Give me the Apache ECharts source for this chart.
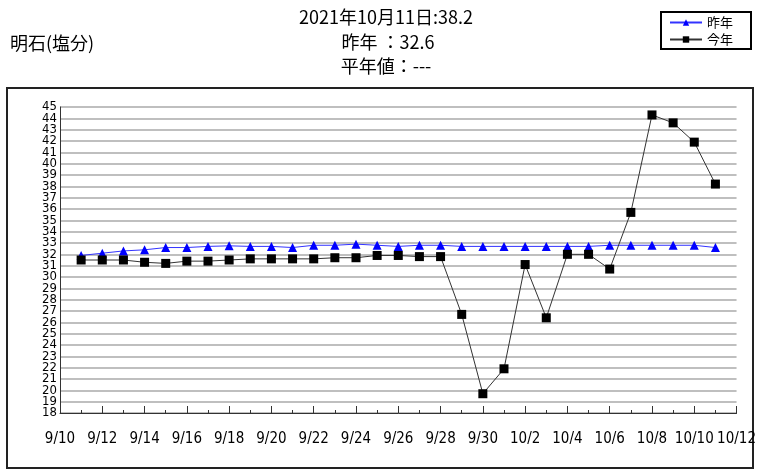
<!DOCTYPE html>
<html>
<head>
<meta charset="utf-8">
<script src="https://cdn.jsdelivr.net/npm/echarts@6/dist/echarts.min.js"></script>
<style>
  html, body { margin: 0; padding: 0; background: #fff; }
  #chart { width: 759px; height: 470px; }
</style>
</head>
<body>
<div id="chart"></div>
<script>
// 9/10 .. 10/12 daily
const dates = [];
for (let d = 10; d <= 30; d++) dates.push('9/' + d);
for (let d = 1; d <= 12; d++) dates.push('10/' + d);

// values from 9/11 to 10/11 (first and last category empty)
const lastYear = [null,
  31.9, 32.1, 32.3, 32.4, 32.6, 32.6, 32.7, 32.75, 32.7, 32.7,
  32.6, 32.8, 32.8, 32.9, 32.8, 32.7, 32.8, 32.8, 32.7, 32.7,
  32.7, 32.7, 32.7, 32.7, 32.7, 32.8, 32.8, 32.8, 32.8, 32.8, 32.6,
  null];
const thisYear = [null,
  31.5, 31.5, 31.5, 31.3, 31.2, 31.4, 31.4, 31.5, 31.6, 31.6,
  31.6, 31.6, 31.7, 31.7, 31.9, 31.9, 31.8, 31.8, 26.7, 19.7,
  21.9, 31.1, 26.4, 32.0, 32.0, 30.7, 35.7, 44.3, 43.6, 41.9, 38.2,
  null];

const Y_MIN = 18, Y_MAX = 45;

const FONT = '"Noto Sans CJK JP", "DejaVu Sans", sans-serif';
const NUM_FONT = '"DejaVu Sans Condensed", "DejaVu Sans", sans-serif';

// labels overlap vertically, so even/odd values are put on two stacked axes
const yLabel = (odd, extra) => Object.assign({
  fontSize: 13, color: '#000', margin: 3, fontFamily: NUM_FONT, hideOverlap: false,
  formatter: v => ((v % 2 === 1) === odd ? String(v) : '')
}, extra);

const chart = echarts.init(document.getElementById('chart'), null, { renderer: 'canvas' });
const option = {
  backgroundColor: '#fff',
  animation: false,
  textStyle: { fontFamily: FONT },
  graphic: [
    { type: 'rect', shape: { x: 7, y: 88, width: 746, height: 380 },
      style: { fill: 'none', stroke: '#222', lineWidth: 2 }, z: -1 },
    { type: 'text', x: 10, y: 34,
      style: { text: '明石(塩分)', fontSize: 18, fill: '#000', fontFamily: FONT } },
    { type: 'text', x: 386, y: 8,
      style: { text: '2021年10月11日:38.2', align: 'center', fontSize: 18, fill: '#000', fontFamily: FONT } },
    { type: 'text', x: 388, y: 33,
      style: { text: '昨年 ：32.6', align: 'center', fontSize: 18, fill: '#000', fontFamily: FONT } },
    { type: 'text', x: 386, y: 57,
      style: { text: '平年値：---', align: 'center', fontSize: 18, fill: '#000', fontFamily: FONT } }
  ],
  legend: {
    left: 661, top: 12, orient: 'vertical',
    borderColor: '#000', borderWidth: 2, padding: [4, 18, 3, 8], itemGap: 4,
    itemWidth: 32, itemHeight: 8,
    textStyle: { fontSize: 13, color: '#000', fontFamily: FONT },
    data: ['昨年', '今年']
  },
  grid: { left: 60, right: 21, top: 107, bottom: 57 },
  xAxis: [{
    type: 'category', data: dates, boundaryGap: false,
    axisLine: { lineStyle: { color: '#333', width: 1 } },
    axisTick: { interval: 0, inside: true, length: 3, lineStyle: { color: '#333' } },
    axisLabel: { interval: 1, margin: 19, fontSize: 15, color: '#000', fontFamily: NUM_FONT },
    splitLine: { show: false }
  }, {
    type: 'category', data: dates, boundaryGap: false, position: 'bottom',
    axisLine: { show: false },
    axisTick: { interval: 1, inside: true, length: 7, lineStyle: { color: '#333' } },
    axisLabel: { show: false }
  }],
  yAxis: [{
    type: 'value', min: Y_MIN, max: Y_MAX, interval: 1, position: 'left',
    axisLine: { show: true, lineStyle: { color: '#333' } },
    axisTick: { show: false },
    axisLabel: yLabel(false, { showMinLabel: true, showMaxLabel: false }),
    splitLine: { lineStyle: { color: '#aaa', width: 1.5 } }
  }, {
    type: 'value', min: Y_MIN, max: Y_MAX, interval: 1, position: 'left',
    axisLine: { show: false },
    axisTick: { show: false },
    axisLabel: yLabel(true, { showMinLabel: false, showMaxLabel: true }),
    splitLine: { show: false }
  }],
  series: [{
    name: '昨年', type: 'line', data: lastYear,
    symbol: 'triangle', symbolSize: 9,
    itemStyle: { color: '#0000ff' },
    lineStyle: { color: '#3333ff', width: 1 }
  }, {
    name: '今年', type: 'line', data: thisYear,
    symbol: 'rect', symbolSize: 9,
    itemStyle: { color: '#000' },
    lineStyle: { color: '#333', width: 1 }
  }]
};
chart.setOption(option);
</script>
</body>
</html>
